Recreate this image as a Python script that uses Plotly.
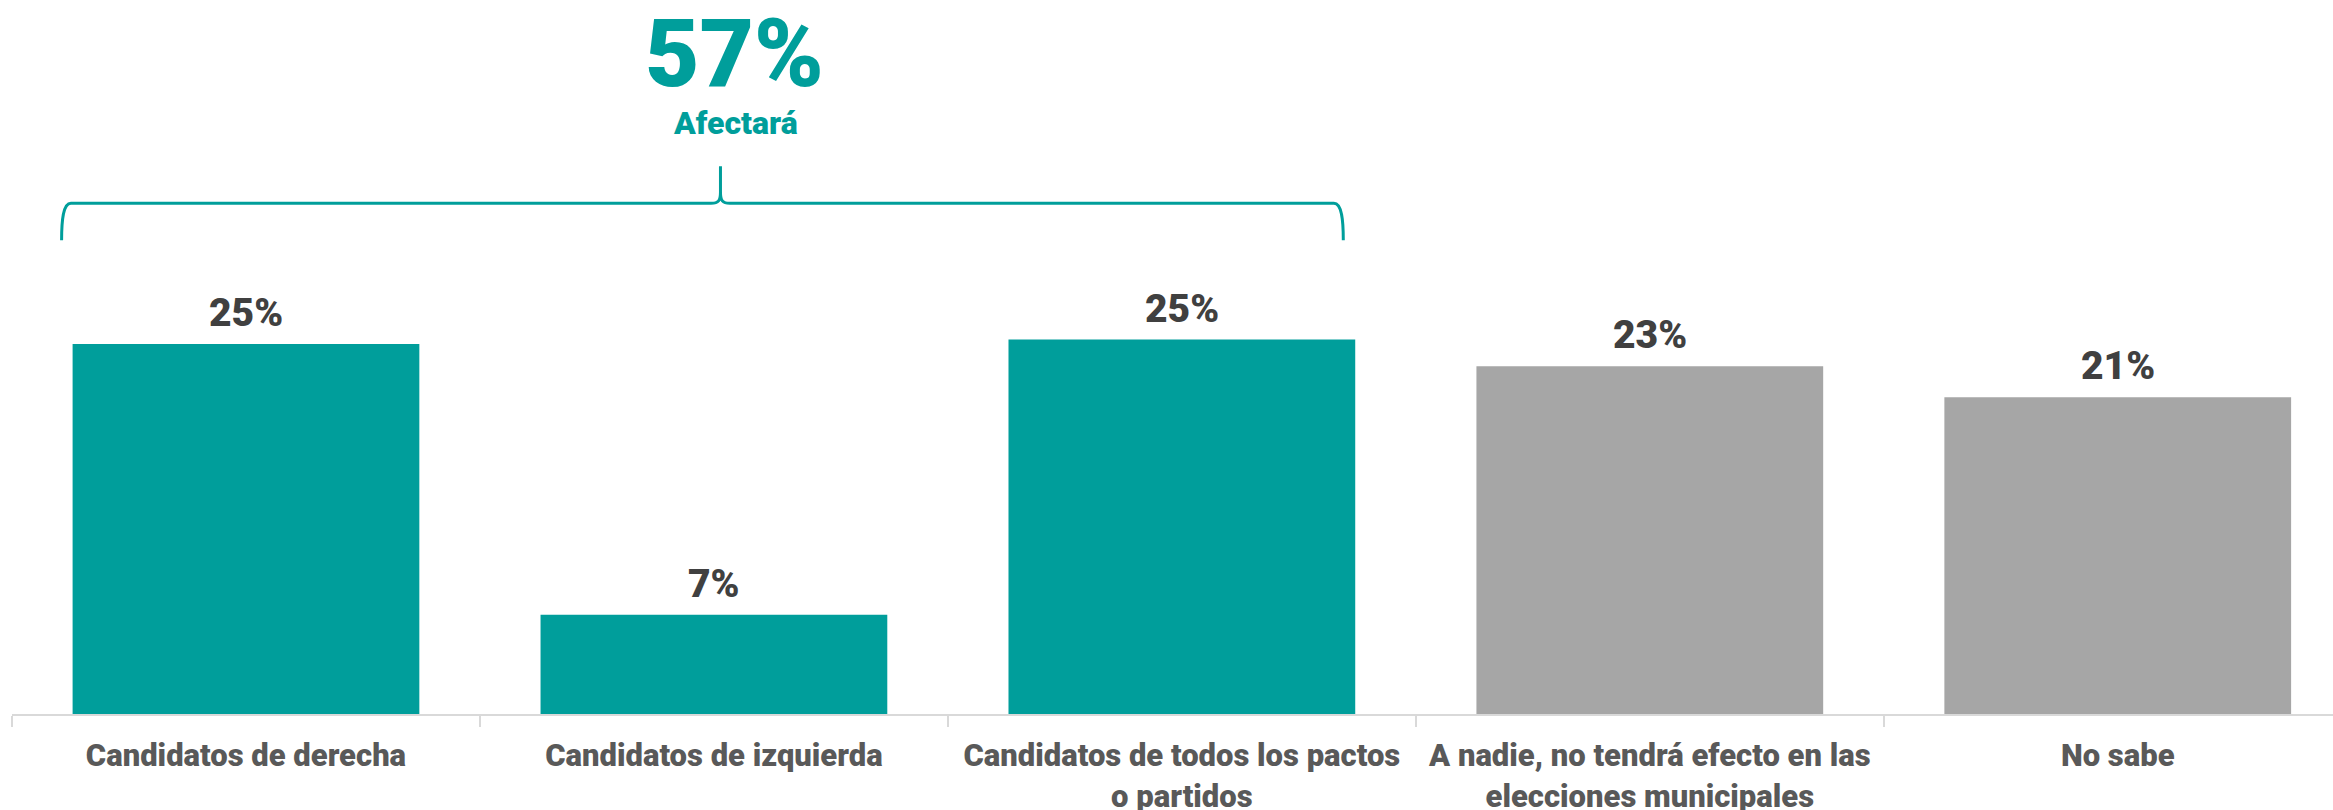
import plotly.graph_objects as go

categories = [
    "Candidatos de derecha",
    "Candidatos de izquierda",
    "Candidatos de todos los pactos<br>o partidos",
    "A nadie, no tendrá efecto en las<br>elecciones municipales",
    "No sabe",
]
values = [25.0, 6.7, 25.3, 23.5, 21.4]
value_labels = ["25%", "7%", "25%", "23%", "21%"]
affects = [True, True, True, False, False]
total_label = "57%"
total_caption = "Afectará"

TEAL = "#009E9B"
GRAY = "#A6A6A6"
FONT = "Roboto, 'Liberation Sans', sans-serif"
colors = [TEAL if a else GRAY for a in affects]

fig = go.Figure(
    go.Bar(
        x=categories,
        y=values,
        marker=dict(color=colors, line=dict(width=0)),
        width=0.741,
        hoverinfo="skip",
    )
)

for cat, v, lab in zip(categories, values, value_labels):
    fig.add_annotation(
        x=cat, y=v, text=lab, showarrow=False, yanchor="bottom", yshift=6,
        font=dict(family=FONT, size=39, color="#404040", weight=900),
    )

# Brace over the "affects" group (data units: x = category index, y = percent)
xl, xr, xc = -0.394, 2.345, 1.014
y_end, y_line, y_tip = 32.0, 34.5, 37.0
dx = 0.02
dy = 0.45
path = (
    f"M {xl},{y_end} C {xl},{y_line-1.2} {xl+0.003},{y_line} {xl+dx},{y_line} "
    f"L {xc-dx},{y_line} C {xc-0.004},{y_line} {xc},{y_line+0.2} {xc},{y_line+dy+0.3} "
    f"L {xc},{y_tip} M {xc},{y_line+dy+0.3} C {xc},{y_line+0.2} {xc+0.004},{y_line} {xc+dx},{y_line} "
    f"L {xr-dx},{y_line} C {xr-0.003},{y_line} {xr},{y_line-1.2} {xr},{y_end}"
)
fig.add_shape(type="path", path=path, xref="x", yref="y",
              line=dict(color=TEAL, width=3), layer="above")

fig.add_annotation(
    x=1.044, y=44.6, text=total_label, showarrow=False, yanchor="middle",
    font=dict(family=FONT, size=94, color=TEAL, weight=900),
)
fig.add_annotation(
    x=1.046, y=39.9, text=total_caption, showarrow=False, yanchor="middle",
    font=dict(family=FONT, size=32, color=TEAL, weight=900),
)

fig.update_layout(
    width=2333, height=810,
    margin=dict(l=12, r=0, t=0, b=96, autoexpand=False),
    plot_bgcolor="white", paper_bgcolor="white",
    showlegend=False,
    bargap=0.259,
)
fig.update_xaxes(
    type="category",
    range=[-0.5, 4.46],
    automargin=False,
    showline=True, linecolor="#D9D9D9", linewidth=2,
    ticks="outside", ticklen=11, tickwidth=1.5, tickcolor="#D9D9D9",
    tickson="boundaries",
    ticklabelstandoff=13,
    tickfont=dict(family=FONT, size=31, color="#595959", weight=900),
    showgrid=False, zeroline=False,
)
fig.update_yaxes(range=[0, 48.24], visible=False, showgrid=False, zeroline=False)

fig.write_html(
    "out.html",
    config={"displayModeBar": False},
    post_script="document.body.style.margin='0';document.body.style.overflow='hidden';",
)
